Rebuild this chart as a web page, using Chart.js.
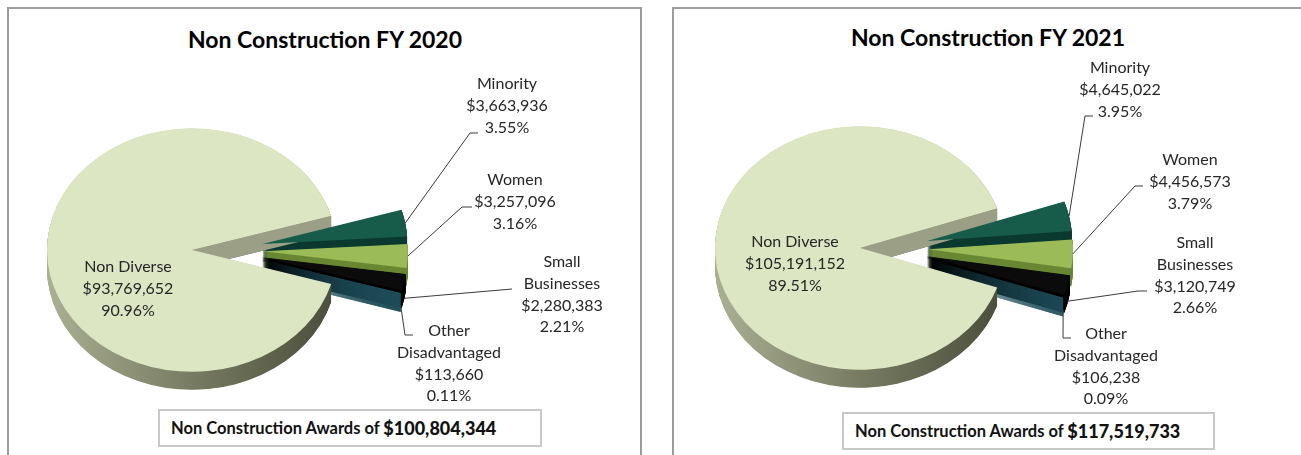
<!DOCTYPE html>
<html lang="en">
<head>
<meta charset="UTF-8">
<title>Non Construction FY 2020 / FY 2021</title>
<script src="https://cdn.jsdelivr.net/npm/chart.js@4"></script>
<style>
  body { margin: 0; background: #fff; font-family: Lato, "Open Sans", sans-serif; }
  #page { position: relative; width: 1301px; height: 455px; overflow: hidden; }
  .panel { position: absolute; top: 7px; height: 470px; border: 2px solid #9c9c9c; box-sizing: border-box; }
  .title { position: absolute; transform: translate(-50%, -50%); font-weight: bold; font-size: 23px; color: #000; white-space: nowrap; }
  canvas { position: absolute; top: 0; }
  .total { position: absolute; height: 38px; border: 2px solid #c8c8c8; box-sizing: border-box; background: #fff;
           display: flex; align-items: center; padding-left: 11px; font-weight: bold; font-size: 16.5px; color: #111; white-space: pre; }
  .total b { font-size: 18px; }
</style>
</head>
<body>
<div id="page">
  <div class="panel" style="left:7px; width:635px;"></div>
  <div class="panel" style="left:672px; width:700px;"></div>
  <div class="title" style="left:325px; top:39px;">Non Construction FY 2020</div>
  <div class="title" style="left:988px; top:37px;">Non Construction FY 2021</div>
  <canvas id="pie2020" width="650" height="455" style="left:0px;"></canvas>
  <canvas id="pie2021" width="651" height="455" style="left:650px;"></canvas>
  <div class="total" id="total2020" style="left:158px; top:409px; width:384px;"></div>
  <div class="total" id="total2021" style="left:842px; top:412px; width:373px;"></div>
</div>

<script>
// data
const categories = [['Minority'], ['Women'], ['Small', 'Businesses'], ['Other', 'Disadvantaged'], ['Non Diverse']];
const values2020 = [3663936, 3257096, 2280383, 113660, 93769652];
const percent2020 = [3.55, 3.16, 2.21, 0.11, 90.96];
const values2021 = [4645022, 4456573, 3120749, 106238, 105191152];
const percent2021 = [3.95, 3.79, 2.66, 0.09, 89.51];
const totals = [100804344, 117519733];

const topColors = ['#175c4b', '#9bbb59', '#0b0b0b', '#1f5260', '#dce6c3'];
const sideColors = ['#0c3a30', '#6a8834', '#000000', '#1f4e5b', null];

const money = v => '$' + v.toLocaleString('en-US');

// fake 3D: squash the pie, explode every slice and extrude it downwards
const pie3d = {
  id: 'pie3d',
  beforeDatasetsDraw(chart, args, opts) {
    const arcs = chart.getDatasetMeta(0).data;
    const ctx = chart.ctx;
    const cx = arcs[0].x, cy = arcs[0].y;
    const last = arcs.length - 1;
    const shift = (arc, i) => {
      const mid = (arc.startAngle + arc.endAngle) / 2;
      const e = i === last ? opts.explodeBig : opts.explode;
      return [Math.cos(mid) * e, Math.sin(mid) * e];
    };
    const path = (arc, i, dy) => {
      const [ox, oy] = shift(arc, i);
      ctx.beginPath();
      ctx.moveTo(arc.x + ox, arc.y + oy + dy);
      ctx.arc(arc.x + ox, arc.y + oy + dy, arc.outerRadius, arc.startAngle, arc.endAngle);
      ctx.closePath();
    };
    ctx.save();
    ctx.translate(cx, cy);
    ctx.scale(1, opts.tilt);
    ctx.translate(-cx, -cy);

    const big = arcs[last];
    const [bx, by] = shift(big, last);
    const grad = ctx.createLinearGradient(big.x + bx - big.outerRadius, 0, big.x + bx + big.outerRadius, 0);
    grad.addColorStop(0, '#aab093');
    grad.addColorStop(0.5, '#777b62');
    grad.addColorStop(1, '#4a4d3a');

    for (let d = opts.depth; d > 0; d -= 0.5) {
      arcs.forEach((arc, i) => {
        path(arc, i, d / opts.tilt);
        ctx.fillStyle = sideColors[i] || grad;
        ctx.fill();
      });
    }
    // cut face of the big slice, seen through the gap
    const ax = big.x + bx, ay = big.y + by;
    const ex = ax + Math.cos(big.endAngle) * big.outerRadius;
    const ey = ay + Math.sin(big.endAngle) * big.outerRadius;
    const dd = opts.depth / opts.tilt;
    ctx.beginPath();
    ctx.moveTo(ax, ay); ctx.lineTo(ex, ey); ctx.lineTo(ex, ey + dd); ctx.lineTo(ax, ay + dd);
    ctx.closePath();
    ctx.fillStyle = '#9b9f86';
    ctx.fill();

    arcs.forEach((arc, i) => {
      path(arc, i, 0);
      ctx.fillStyle = topColors[i];
      ctx.fill();
    });
    ctx.restore();
    return false;
  },
  afterDraw(chart, args, opts) {
    const arcs = chart.getDatasetMeta(0).data;
    const ds = chart.data.datasets[0];
    const ctx = chart.ctx;
    const last = arcs.length - 1;
    ctx.save();
    arcs.forEach((arc, i) => {
      const lab = opts.labels[i];
      if (lab.elbow) {
        const mid = (arc.startAngle + arc.endAngle) / 2;
        const r = arc.outerRadius + (i === last ? opts.explodeBig : opts.explode);
        const sx = arc.x + Math.cos(mid) * r;
        const sy = arc.y + Math.sin(mid) * r * opts.tilt + (lab.dy || 0);
        ctx.beginPath();
        ctx.moveTo(sx, sy);
        ctx.lineTo(lab.elbow[0], lab.elbow[1]);
        if (lab.tick) ctx.lineTo(lab.tick[0], lab.tick[1]);
        ctx.strokeStyle = '#3a3a3a';
        ctx.lineWidth = 1;
        ctx.stroke();
      }
      const lines = [...chart.data.labels[i], money(ds.data[i]), ds.percent[i].toFixed(2) + '%'];
      ctx.font = '16px Lato, "Open Sans", sans-serif';
      ctx.fillStyle = '#262626';
      ctx.textAlign = 'center';
      ctx.textBaseline = 'middle';
      lines.forEach((t, k) => ctx.fillText(t, lab.x, lab.y + k * 21.7));
    });
    ctx.restore();
  }
};

function makePie(id, values, percent, center, explode, labels) {
  const canvas = document.getElementById(id);
  const smallShare = values.slice(0, 4).reduce((a, b) => a + b, 0) / values.reduce((a, b) => a + b, 0);
  new Chart(canvas, {
    type: 'pie',
    data: {
      labels: categories,
      datasets: [{
        data: values,
        percent: percent,
        backgroundColor: topColors,
        borderWidth: 0,
        radius: 145
      }]
    },
    options: {
      responsive: false,
      animation: false,
      events: [],
      rotation: 90 - smallShare * 180,
      layout: {
        padding: { left: 0, right: canvas.width - 2 * center[0], top: 2 * center[1] - canvas.height, bottom: 0 }
      },
      plugins: {
        legend: { display: false },
        tooltip: { enabled: false },
        pie3d: { tilt: 0.84, depth: 18, explode: explode[0], explodeBig: explode[1], labels: labels }
      }
    },
    plugins: [pie3d]
  });
}

makePie('pie2020', values2020, percent2020, [221, 250], [42, 29], [
  { x: 507, y: 84, elbow: [470, 133], tick: [478, 133] },
  { x: 515, y: 180, elbow: [462, 207], tick: [472, 207] },
  { x: 562, y: 262, elbow: [512, 289], dy: 16 },
  { x: 449, y: 331, elbow: [405, 335], tick: [413, 335], dy: 12 },
  { x: 128, y: 267 }
]);

makePie('pie2021', values2021, percent2021, [237, 248], [41, 27], [
  { x: 470, y: 68, elbow: [435, 116], tick: [443, 116] },
  { x: 540, y: 160, elbow: [485, 186], tick: [493, 186] },
  { x: 545, y: 243, elbow: [488, 291], tick: [497, 291], dy: 16 },
  { x: 456, y: 334, elbow: [413, 338], tick: [421, 338], dy: 12 },
  { x: 145, y: 242 }
]);

document.getElementById('total2020').innerHTML = 'Non Construction Awards of <b>' + money(totals[0]) + '</b>';
document.getElementById('total2021').innerHTML = 'Non Construction Awards of <b>' + money(totals[1]) + '</b>';
</script>
</body>
</html>
